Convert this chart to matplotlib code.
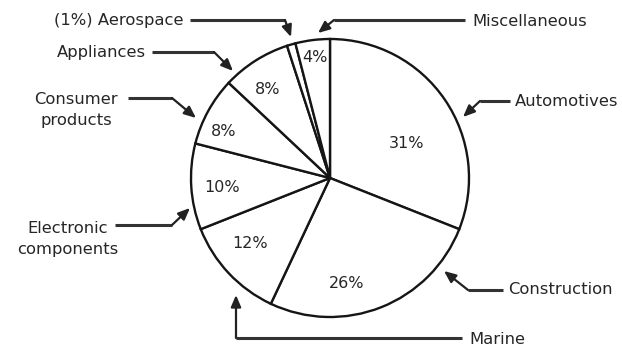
import matplotlib
matplotlib.use("Agg")
import matplotlib.pyplot as plt

categories = ["Automotives", "Construction", "Marine", "Electronic\ncomponents",
              "Consumer\nproducts", "Appliances", "(1%) Aerospace", "Miscellaneous"]
shares = [31, 26, 12, 10, 8, 8, 1, 4]

plt.rcParams['font.family'] = ['DejaVu Sans']

W, H = 622, 349
fig = plt.figure(figsize=(W / 100, H / 100), dpi=100)
ax = fig.add_axes([0, 0, 1, 1])

cx, cy, r = 330, 178, 139
edge = '#151515'
ax.pie(shares, startangle=-90, counterclock=True, center=(cx, cy), radius=r,
       wedgeprops=dict(facecolor='white', edgecolor=edge, linewidth=1.7),
       frame=True)
ax.set_xlim(0, W)
ax.set_ylim(H, 0)
ax.axis('off')
ax.set_aspect('auto')

tc = '#262626'
fs = 11.8
# percentage label positions (layout)
pct_pos = [(407, 143), (347, 283), (250, 243), (222, 187), (224, 132),
           (268, 90), None, (315, 58)]
for v, p in zip(shares, pct_pos):
    if p is None:
        continue
    ax.text(p[0], p[1], f"{v}%", ha='center', va='center', fontsize=fs - 0.3, color=tc)

# callouts: (category index, text x, text y, ha, line points, arrow tip)
callouts = [
    (0, 515, 101, 'left', [(510, 101), (480, 101)], (463, 117)),
    (1, 508, 290, 'left', [(503, 290), (468, 290)], (444, 271)),
    (2, 469, 339, 'left', [(462, 338), (236, 338)], (236, 295)),
    (3, 68, 239, 'center', [(115, 225), (172, 225)], (190, 208)),
    (4, 76, 110, 'center', [(128, 98), (172, 98)], (196, 118)),
    (5, 146, 52, 'right', [(152, 52), (214, 52)], (233, 71)),
    (6, 183, 20, 'right', [(190, 20), (285, 20)], (291, 37)),
    (7, 472, 21, 'left', [(465, 20), (334, 20)], (318, 33)),
]
for idx, tx, ty, ha, pts, tip in callouts:
    ax.text(tx, ty, categories[idx], ha=ha, va='center', fontsize=fs,
            color=tc, linespacing=1.55)
    xs = [p[0] for p in pts]
    ys = [p[1] for p in pts]
    ax.plot(xs, ys, color='#333333', lw=2.2, solid_capstyle='butt')
    ax.annotate('', xy=tip, xytext=pts[-1],
                arrowprops=dict(arrowstyle='-|>,head_length=0.7,head_width=0.3',
                                color='#222222', lw=1.6, shrinkA=0, shrinkB=0))

fig.savefig('out.png', dpi=100, facecolor='white')
